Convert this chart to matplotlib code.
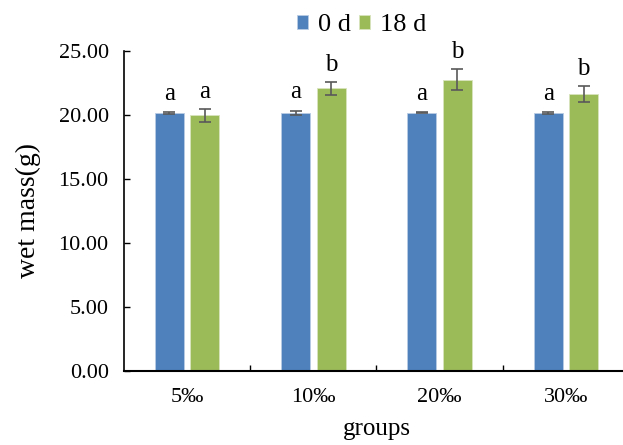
import numpy as np
import matplotlib.pyplot as plt

plt.rcParams['font.family'] = ['Liberation Serif', 'DejaVu Serif']

# data
groups = ['5‰', '10‰', '20‰', '30‰']
day0 = [20.15, 20.15, 20.17, 20.15]
day0_err = [0.08, 0.17, 0.06, 0.07]
day18 = [19.95, 22.05, 22.75, 21.62]
day18_err = [0.48, 0.50, 0.80, 0.60]
labels0 = ['a', 'a', 'a', 'a']
labels18 = ['a', 'b', 'b', 'b']

blue = '#4F81BD'
green = '#9BBB59'

fig = plt.figure(figsize=(6.23, 4.45), dpi=100)
ax = fig.add_axes([0.199, 0.1663, 0.8106, 0.7198])

x = np.arange(len(groups))
w = 0.23
off = 0.14

ax.bar(x - off, day0, w, color=blue, edgecolor='#B8CCE4', linewidth=0.6, label='0 d', zorder=2)
ax.bar(x + off, day18, w, color=green, edgecolor='#D7E4BD', linewidth=0.6, label='18 d', zorder=2)
ax.errorbar(x - off, day0, yerr=day0_err, fmt='none', ecolor='#595959', elinewidth=1.2, capsize=4, capthick=1.2, zorder=3)
ax.errorbar(x + off, day18, yerr=day18_err, fmt='none', ecolor='#595959', elinewidth=1.2, capsize=4, capthick=1.2, zorder=3)

for i in range(len(groups)):
    ax.text(x[i] - off, day0[i] + day0_err[i] + 0.95, labels0[i], ha='center', va='baseline', fontsize=18)
    ax.text(x[i] + off, day18[i] + day18_err[i] + 0.85, labels18[i], ha='center', va='baseline', fontsize=18)

ax.set_ylim(0, 25)
ax.set_xlim(-0.5, 3.5)
yt = np.arange(0, 25.1, 5)
ax.set_yticks(yt)
ax.set_yticklabels(['%.2f' % v for v in yt], fontsize=16)
ax.set_xticks(x)
ax.set_xticklabels(groups, fontsize=16)
ax.set_xticks(np.arange(0.5, 3.5, 1), minor=True)
ax.tick_params(axis='x', which='major', length=0, pad=12)
ax.tick_params(axis='x', which='minor', length=4, direction='in', width=1)
ax.tick_params(axis='y', length=4, direction='in', width=1, pad=11)

for s in ['top', 'right']:
    ax.spines[s].set_visible(False)
ax.spines['left'].set_linewidth(1.2)
ax.spines['bottom'].set_linewidth(1.5)

ax.set_ylabel('wet mass(g)', fontsize=20, labelpad=13)
ax.set_xlabel('groups', fontsize=18, labelpad=8)

ax.legend(loc='lower center', bbox_to_anchor=(0.47, 1.0), ncol=2, frameon=False,
          fontsize=19, handlelength=0.45, handleheight=0.45, handletextpad=0.35,
          columnspacing=0.3, borderaxespad=0.15)

fig.savefig('out.png', dpi=100)
